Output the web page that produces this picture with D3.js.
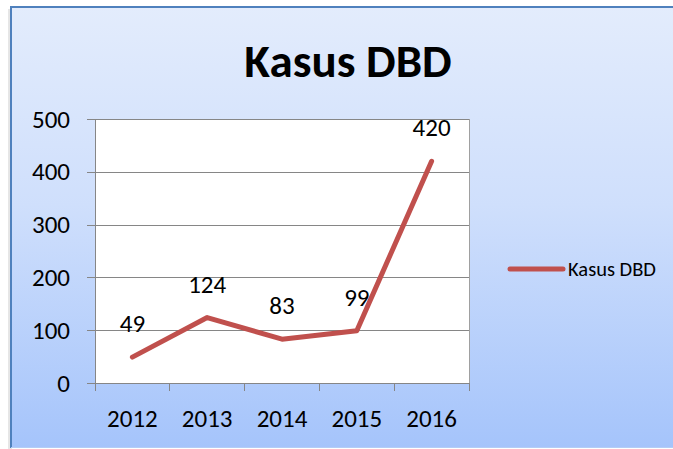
<!DOCTYPE html>
<html>
<head>
<meta charset="utf-8">
<script src="https://cdn.jsdelivr.net/npm/d3@7"></script>
<style>
  html, body { margin: 0; padding: 0; background: #fff; }
  svg { display: block; }
  text { font-family: Carlito, Lato, "Open Sans", sans-serif; fill: #000; }
</style>
</head>
<body>
<svg id="chart" width="673" height="449"></svg>
<script>
const title = "Kasus DBD";
const seriesName = "Kasus DBD";
const categories = ["2012", "2013", "2014", "2015", "2016"];
const values = [49, 124, 83, 99, 420];
const yTicks = [0, 100, 200, 300, 400, 500];

const svg = d3.select("#chart");
const W = 673, H = 449;
const FS = 25;

const defs = svg.append("defs");
const grad = defs.append("linearGradient").attr("id", "bg").attr("x1", 0).attr("y1", 0).attr("x2", 0).attr("y2", 1);
grad.append("stop").attr("offset", "0%").attr("stop-color", "#E3ECFC");
grad.append("stop").attr("offset", "45%").attr("stop-color", "#CFDFFC");
grad.append("stop").attr("offset", "100%").attr("stop-color", "#A5C4FB");

// shadow + box
svg.append("rect").attr("x", 8).attr("y", 9).attr("width", 4).attr("height", H).attr("fill", "#e6e6e6");
svg.append("rect").attr("x", 11).attr("y", 7).attr("width", W - 11).attr("height", 441).attr("fill", "url(#bg)");
svg.append("line").attr("x1", 11).attr("x2", W).attr("y1", 7).attr("y2", 7).attr("stroke", "#4F81BD").attr("stroke-width", 2);
svg.append("line").attr("x1", 11).attr("x2", 11).attr("y1", 6).attr("y2", 448).attr("stroke", "#4F81BD").attr("stroke-width", 2);
svg.append("line").attr("x1", 11).attr("x2", W).attr("y1", 447.5).attr("y2", 447.5).attr("stroke", "#B4CDF6").attr("stroke-width", 1);

const plot = { left: 95, right: 469, top: 119, bottom: 383 };

const x = d3.scaleBand().domain(categories).range([plot.left, plot.right]).paddingInner(0).paddingOuter(0);
const y = d3.scaleLinear().domain([0, 500]).range([plot.bottom, plot.top]);

// plot area
svg.append("rect").attr("x", plot.left).attr("y", plot.top)
  .attr("width", plot.right - plot.left).attr("height", plot.bottom - plot.top)
  .attr("fill", "#fff").attr("stroke", "#A0A0A0").attr("stroke-width", 1).attr("shape-rendering", "crispEdges");

// gridlines
svg.append("g").attr("transform", `translate(${plot.left},0)`)
  .call(d3.axisLeft(y).tickValues(yTicks).tickSize(-(plot.right - plot.left)).tickFormat(""))
  .call(g => g.select(".domain").remove())
  .call(g => g.selectAll("line").attr("stroke", "#868686").attr("shape-rendering", "crispEdges"));

// y axis
svg.append("g").attr("transform", `translate(${plot.left},0)`)
  .call(d3.axisLeft(y).tickValues(yTicks).tickSize(8).tickPadding(17))
  .call(g => g.select(".domain").attr("stroke", "#868686").attr("shape-rendering", "crispEdges"))
  .call(g => g.selectAll("line").attr("stroke", "#868686").attr("shape-rendering", "crispEdges"))
  .call(g => g.selectAll("text").attr("font-size", FS).attr("font-family", "Carlito, Lato, sans-serif").attr("fill", "#000"));

// x axis
const xg = svg.append("g").attr("transform", `translate(0,${plot.bottom})`)
  .call(d3.axisBottom(x).tickSize(0).tickPadding(26))
  .call(g => g.select(".domain").attr("stroke", "#868686").attr("shape-rendering", "crispEdges"))
  .call(g => g.selectAll("text").attr("font-size", FS).attr("font-family", "Carlito, Lato, sans-serif").attr("fill", "#000"));
xg.selectAll(".bound").data(categories.map(c => x(c)).concat([plot.right]))
  .enter().append("line").attr("class", "bound")
  .attr("x1", d => d).attr("x2", d => d).attr("y1", 0).attr("y2", 8)
  .attr("stroke", "#868686").attr("shape-rendering", "crispEdges");

// line
const pts = categories.map((c, i) => ({ c, v: values[i] }));
const line = d3.line().x(d => x(d.c) + x.bandwidth() / 2).y(d => y(d.v));
svg.append("path").datum(pts).attr("d", line)
  .attr("fill", "none").attr("stroke", "#C0504D").attr("stroke-width", 5)
  .attr("stroke-linecap", "round").attr("stroke-linejoin", "round");

// data labels
svg.append("g").selectAll("text").data(pts).enter().append("text")
  .attr("x", d => x(d.c) + x.bandwidth() / 2)
  .attr("y", d => y(d.v) - 25)
  .attr("text-anchor", "middle").attr("font-size", FS)
  .text(d => d.v);

// title
svg.append("text").attr("x", 348).attr("y", 77).attr("text-anchor", "middle")
  .attr("font-size", 47).attr("font-weight", "bold").text(title);

// legend
svg.append("line").attr("x1", 510).attr("x2", 563).attr("y1", 269).attr("y2", 269)
  .attr("stroke", "#C0504D").attr("stroke-width", 5).attr("stroke-linecap", "round");
svg.append("text").attr("x", 568).attr("y", 276).attr("font-size", 20.5).text(seriesName);
</script>
</body>
</html>
